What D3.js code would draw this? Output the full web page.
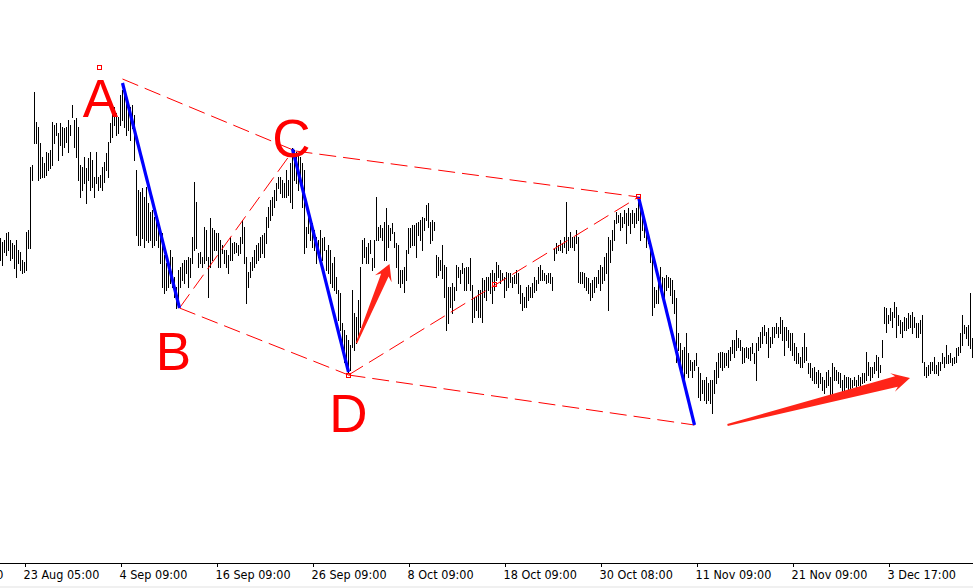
<!DOCTYPE html>
<html><head><meta charset="utf-8">
<script src="https://cdn.jsdelivr.net/npm/d3@7"></script>
<style>html,body{margin:0;padding:0;background:#fff;overflow:hidden}</style>
</head><body><svg id="c" width="973" height="588"></svg>
<script>
// ---- Bar data (H/L prices, one bar every 2 px) ----
const highs = [
1.1762,1.1758,1.1760,1.1767,1.1768,1.1760,1.1757,1.1755,1.1760,1.1750,
1.1748,1.1740,1.1738,1.1768,1.1770,1.1833,1.1835,1.1908,1.1878,1.1873,
1.1857,1.1843,1.1837,1.1848,1.1847,1.1850,1.1878,1.1875,1.1877,1.1867,
1.1877,1.1873,1.1872,1.1873,1.1880,1.1875,1.1895,1.1880,1.1882,1.1873,
1.1835,1.1833,1.1843,1.1832,1.1842,1.1848,1.1840,1.1823,1.1848,1.1823,
1.1825,1.1833,1.1838,1.1847,1.1858,1.1877,1.1888,1.1893,1.1887,1.1883,
1.1905,1.1910,1.1912,1.1903,1.1897,1.1893,1.1895,1.1885,1.1830,1.1810,
1.1808,1.1812,1.1803,1.1813,1.1797,1.1788,1.1790,1.1783,1.1787,1.1780,
1.1763,1.1767,1.1745,1.1737,1.1730,1.1750,1.1743,1.1723,1.1713,1.1730,
1.1733,1.1737,1.1740,1.1740,1.1743,1.1742,1.1763,1.1818,1.1798,1.1747,
1.1748,1.1743,1.1773,1.1770,1.1743,1.1782,1.1772,1.1770,1.1767,1.1767,
1.1760,1.1755,1.1750,1.1750,1.1745,1.1763,1.1757,1.1758,1.1757,1.1755,
1.1763,1.1780,1.1773,1.1743,1.1728,1.1738,1.1743,1.1750,1.1755,1.1757,
1.1763,1.1765,1.1767,1.1783,1.1793,1.1800,1.1803,1.1810,1.1817,1.1823,
1.1823,1.1820,1.1817,1.1830,1.1820,1.1837,1.1852,1.1850,1.1848,1.1845,
1.1843,1.1837,1.1830,1.1773,1.1790,1.1783,1.1777,1.1770,1.1763,1.1760,
1.1770,1.1762,1.1763,1.1750,1.1755,1.1750,1.1737,1.1743,1.1723,1.1710,
1.1707,1.1677,1.1670,1.1665,1.1660,1.1655,1.1710,1.1687,1.1683,1.1700,
1.1733,1.1760,1.1762,1.1753,1.1757,1.1760,1.1742,1.1760,1.1803,1.1773,
1.1775,1.1772,1.1778,1.1792,1.1775,1.1772,1.1777,1.1768,1.1757,1.1755,
1.1730,1.1730,1.1733,1.1750,1.1772,1.1772,1.1775,1.1775,1.1777,1.1778,
1.1780,1.1783,1.1782,1.1795,1.1797,1.1778,1.1780,1.1778,1.1745,1.1743,
1.1740,1.1755,1.1735,1.1733,1.1713,1.1713,1.1717,1.1713,1.1735,1.1733,
1.1730,1.1737,1.1732,1.1733,1.1733,1.1742,1.1715,1.1703,1.1703,1.1710,
1.1710,1.1722,1.1720,1.1723,1.1723,1.1727,1.1730,1.1727,1.1738,1.1735,
1.1730,1.1727,1.1723,1.1728,1.1727,1.1727,1.1723,1.1725,1.1730,1.1727,
1.1715,1.1707,1.1703,1.1713,1.1715,1.1713,1.1717,1.1723,1.1720,1.1733,
1.1735,1.1730,1.1727,1.1725,1.1727,1.1727,1.1723,1.1752,1.1757,1.1755,
1.1760,1.1757,1.1763,1.1798,1.1763,1.1768,1.1763,1.1763,1.1770,1.1763,
1.1728,1.1728,1.1727,1.1723,1.1722,1.1717,1.1720,1.1723,1.1723,1.1730,
1.1735,1.1733,1.1743,1.1747,1.1763,1.1760,1.1770,1.1780,1.1788,1.1785,
1.1787,1.1783,1.1790,1.1787,1.1792,1.1787,1.1790,1.1787,1.1792,1.1800,
1.1790,1.1783,1.1780,1.1773,1.1765,1.1755,1.1748,1.1713,1.1710,1.1720,
1.1733,1.1723,1.1722,1.1725,1.1723,1.1722,1.1720,1.1710,1.1702,1.1667,
1.1657,1.1650,1.1653,1.1667,1.1647,1.1640,1.1638,1.1640,1.1647,1.1633,
1.1627,1.1620,1.1620,1.1623,1.1617,1.1620,1.1620,1.1630,1.1638,1.1647,
1.1648,1.1648,1.1647,1.1647,1.1650,1.1653,1.1660,1.1660,1.1670,1.1662,
1.1660,1.1653,1.1652,1.1653,1.1652,1.1653,1.1657,1.1647,1.1657,1.1663,
1.1668,1.1673,1.1675,1.1668,1.1672,1.1663,1.1673,1.1673,1.1677,1.1673,
1.1683,1.1680,1.1673,1.1673,1.1670,1.1667,1.1667,1.1657,1.1653,1.1647,
1.1643,1.1653,1.1667,1.1653,1.1637,1.1637,1.1632,1.1633,1.1628,1.1630,
1.1627,1.1623,1.1620,1.1628,1.1630,1.1623,1.1637,1.1633,1.1630,1.1628,
1.1627,1.1620,1.1625,1.1623,1.1623,1.1622,1.1620,1.1623,1.1620,1.1625,
1.1623,1.1627,1.1627,1.1648,1.1638,1.1633,1.1633,1.1638,1.1645,1.1643,
1.1635,1.1660,1.1693,1.1692,1.1685,1.1692,1.1688,1.1698,1.1693,1.1685,
1.1680,1.1678,1.1683,1.1682,1.1687,1.1685,1.1688,1.1683,1.1677,1.1677,
1.1680,1.1685,1.1638,1.1633,1.1635,1.1638,1.1638,1.1643,1.1635,1.1638,
1.1638,1.1647,1.1643,1.1655,1.1645,1.1647,1.1642,1.1643,1.1652,1.1653,
1.1667,1.1685,1.1675,1.1673,1.1675,1.1707,1.1662];
const lows = [
1.1740,1.1735,1.1748,1.1745,1.1750,1.1740,1.1742,1.1732,1.1723,1.1737,
1.1730,1.1727,1.1728,1.1730,1.1752,1.1752,1.1820,1.1857,1.1857,1.1820,
1.1822,1.1823,1.1823,1.1825,1.1830,1.1832,1.1835,1.1857,1.1865,1.1840,
1.1855,1.1845,1.1853,1.1858,1.1848,1.1865,1.1883,1.1853,1.1843,1.1820,
1.1803,1.1810,1.1817,1.1797,1.1820,1.1810,1.1813,1.1803,1.1817,1.1810,
1.1813,1.1810,1.1818,1.1830,1.1823,1.1858,1.1863,1.1875,1.1865,1.1867,
1.1875,1.1880,1.1873,1.1865,1.1870,1.1860,1.1872,1.1840,1.1765,1.1755,
1.1755,1.1762,1.1753,1.1760,1.1758,1.1760,1.1753,1.1755,1.1760,1.1753,
1.1737,1.1713,1.1707,1.1710,1.1713,1.1717,1.1713,1.1703,1.1692,1.1700,
1.1713,1.1720,1.1717,1.1727,1.1713,1.1723,1.1737,1.1750,1.1752,1.1733,
1.1737,1.1733,1.1737,1.1740,1.1703,1.1733,1.1740,1.1750,1.1750,1.1733,
1.1733,1.1747,1.1737,1.1733,1.1727,1.1740,1.1740,1.1747,1.1748,1.1745,
1.1747,1.1757,1.1737,1.1697,1.1713,1.1723,1.1730,1.1733,1.1737,1.1740,
1.1743,1.1747,1.1743,1.1757,1.1773,1.1780,1.1785,1.1793,1.1800,1.1812,
1.1807,1.1803,1.1803,1.1803,1.1805,1.1798,1.1792,1.1820,1.1817,1.1810,
1.1820,1.1793,1.1747,1.1753,1.1767,1.1760,1.1753,1.1750,1.1737,1.1743,
1.1740,1.1740,1.1750,1.1730,1.1727,1.1717,1.1713,1.1710,1.1707,1.1680,
1.1670,1.1650,1.1638,1.1632,1.1628,1.1630,1.1653,1.1650,1.1657,1.1663,
1.1673,1.1737,1.1743,1.1737,1.1737,1.1747,1.1730,1.1733,1.1760,1.1760,
1.1763,1.1760,1.1740,1.1740,1.1753,1.1760,1.1767,1.1753,1.1733,1.1717,
1.1713,1.1717,1.1708,1.1720,1.1747,1.1753,1.1755,1.1755,1.1743,1.1765,
1.1760,1.1750,1.1770,1.1780,1.1773,1.1757,1.1760,1.1770,1.1723,1.1725,
1.1730,1.1722,1.1703,1.1670,1.1677,1.1693,1.1687,1.1700,1.1710,1.1723,
1.1717,1.1727,1.1710,1.1710,1.1717,1.1710,1.1678,1.1683,1.1690,1.1683,
1.1683,1.1678,1.1703,1.1700,1.1710,1.1707,1.1697,1.1710,1.1720,1.1723,
1.1717,1.1720,1.1703,1.1710,1.1713,1.1718,1.1713,1.1717,1.1717,1.1707,
1.1697,1.1690,1.1693,1.1693,1.1700,1.1703,1.1703,1.1708,1.1710,1.1717,
1.1720,1.1720,1.1720,1.1717,1.1718,1.1717,1.1710,1.1740,1.1747,1.1750,
1.1750,1.1748,1.1753,1.1747,1.1750,1.1753,1.1753,1.1750,1.1757,1.1718,
1.1717,1.1717,1.1713,1.1710,1.1707,1.1700,1.1703,1.1708,1.1713,1.1717,
1.1710,1.1717,1.1720,1.1727,1.1690,1.1738,1.1750,1.1760,1.1777,1.1778,
1.1770,1.1773,1.1777,1.1757,1.1775,1.1767,1.1777,1.1773,1.1777,1.1780,
1.1760,1.1770,1.1763,1.1753,1.1757,1.1738,1.1685,1.1693,1.1697,1.1697,
1.1710,1.1703,1.1695,1.1710,1.1713,1.1705,1.1697,1.1687,1.1638,1.1650,
1.1637,1.1630,1.1617,1.1627,1.1623,1.1630,1.1623,1.1630,1.1635,1.1603,
1.1600,1.1607,1.1600,1.1597,1.1600,1.1597,1.1587,1.1607,1.1617,1.1623,
1.1633,1.1630,1.1633,1.1635,1.1633,1.1640,1.1647,1.1643,1.1650,1.1653,
1.1650,1.1637,1.1638,1.1643,1.1642,1.1640,1.1647,1.1637,1.1620,1.1650,
1.1653,1.1657,1.1665,1.1657,1.1643,1.1653,1.1657,1.1663,1.1667,1.1663,
1.1667,1.1660,1.1645,1.1660,1.1653,1.1650,1.1645,1.1640,1.1637,1.1637,
1.1633,1.1633,1.1638,1.1640,1.1627,1.1623,1.1620,1.1617,1.1617,1.1613,
1.1617,1.1610,1.1607,1.1613,1.1615,1.1603,1.1607,1.1620,1.1620,1.1617,
1.1613,1.1607,1.1610,1.1613,1.1610,1.1612,1.1613,1.1615,1.1610,1.1615,
1.1613,1.1617,1.1618,1.1620,1.1625,1.1620,1.1623,1.1627,1.1630,1.1623,
1.1628,1.1643,1.1677,1.1668,1.1677,1.1680,1.1673,1.1683,1.1663,1.1675,
1.1667,1.1663,1.1670,1.1670,1.1672,1.1673,1.1667,1.1673,1.1663,1.1663,
1.1667,1.1638,1.1625,1.1623,1.1625,1.1627,1.1630,1.1627,1.1627,1.1625,
1.1630,1.1637,1.1633,1.1637,1.1637,1.1638,1.1635,1.1637,1.1638,1.1645,
1.1648,1.1655,1.1667,1.1662,1.1655,1.1652,1.1643];

// ---- Time axis ----
const tickLabels = ["11 Aug 09:00","23 Aug 05:00","4 Sep 09:00","16 Sep 09:00","26 Sep 09:00","8 Oct 09:00",
                    "18 Oct 09:00","30 Oct 08:00","11 Nov 09:00","21 Nov 09:00","3 Dec 17:00"];
const tickIndex  = [-36,12,60,108,156,204,252,300,348,396,444];

// ---- Pattern annotation (bar index, price) ----
const blueLegs = [
  {from:[61,1.1917],  to:[89.5,1.1692]},   // A -> B
  {from:[146,1.1851], to:[174,1.1628]},    // C -> D
  {from:[319,1.1803], to:[347,1.1575]}     // E -> F
];
const dashedLegs = [
  {from:[61,1.1921],  to:[147.5,1.1849]},  // A - C
  {from:[147.5,1.1849], to:[319,1.1803]},  // C - E
  {from:[89.5,1.1692], to:[146.5,1.1850]}, // B - C
  {from:[89.5,1.1692], to:[174,1.1625]},   // B - D
  {from:[174,1.1625], to:[319,1.1803]},    // D - E
  {from:[174,1.1625], to:[347,1.1575]}     // D - F
];
const markers = [[49.5,1.1932],[174,1.1624],[247,1.1715],[319,1.1803]];
const letters = [
  {t:"A", i:50,   p:1.1883},
  {t:"B", i:86.5, p:1.1630},
  {t:"C", i:145.5,p:1.1843},
  {t:"D", i:174,  p:1.1568}
];
const arrows = [
  {from:[178,1.1657],   to:[194.5,1.1736], head:16, hw:9,   sw:4,   tw:0.8},
  {from:[363.5,1.1575], to:[454.75,1.1622], head:18, hw:9.5, sw:5.5, tw:1}
];

// ---- Drawing ----
const W = 973, H = 588, AXIS_Y = 563;
const svg = d3.select("#c");
const x = d3.scaleLinear().domain([0, highs.length - 1]).range([0.5, 2*(highs.length-1)+0.5]);
const y = d3.scaleLinear().domain([1.1437, 1.2]).range([AXIS_Y, 0]);

svg.append("rect").attr("x",0).attr("y",0).attr("width",W).attr("height",H).attr("fill","#fff");
svg.append("rect").attr("x",0).attr("y",586).attr("width",W).attr("height",2).attr("fill","#f0f0f0");

// price bars
svg.append("g").selectAll("line").data(highs).join("line")
  .attr("x1",(d,i)=>x(i)).attr("x2",(d,i)=>x(i))
  .attr("y1",d=>Math.round(y(d)))
  .attr("y2",(d,i)=>Math.round(y(lows[i]))+1)
  .attr("stroke","#000").attr("stroke-width",1).attr("shape-rendering","crispEdges");

// dashed legs
svg.append("g").selectAll("line").data(dashedLegs).join("line")
  .attr("x1",d=>x(d.from[0])).attr("y1",d=>y(d.from[1]))
  .attr("x2",d=>x(d.to[0])).attr("y2",d=>y(d.to[1]))
  .attr("stroke","#ff0000").attr("stroke-width",1).attr("stroke-dasharray","17,7");

// blue legs
svg.append("g").selectAll("line").data(blueLegs).join("line")
  .attr("x1",d=>x(d.from[0])).attr("y1",d=>y(d.from[1]))
  .attr("x2",d=>x(d.to[0])).attr("y2",d=>y(d.to[1]))
  .attr("stroke","#0000ff").attr("stroke-width",3.2);

// markers
svg.append("g").selectAll("rect").data(markers).join("rect")
  .attr("x",d=>Math.round(x(d[0]))-2.5).attr("y",d=>Math.round(y(d[1]))-2.5)
  .attr("width",4).attr("height",4).attr("fill","none").attr("stroke","#ff0000").attr("stroke-width",1)
  .attr("shape-rendering","crispEdges");

// arrows
function arrowPath(a){
  const x0=x(a.from[0]), y0=y(a.from[1]), x1=x(a.to[0]), y1=y(a.to[1]);
  const L=Math.hypot(x1-x0,y1-y0), ux=(x1-x0)/L, uy=(y1-y0)/L, nx=-uy, ny=ux;
  const bx=x1-ux*a.head, by=y1-uy*a.head;
  const kx=x1-ux*(a.head-4), ky=y1-uy*(a.head-4);
  const pts=[[x0+nx*a.tw,y0+ny*a.tw],[kx+nx*a.sw,ky+ny*a.sw],[bx+nx*a.hw,by+ny*a.hw],[x1,y1],
             [bx-nx*a.hw,by-ny*a.hw],[kx-nx*a.sw,ky-ny*a.sw],[x0-nx*a.tw,y0-ny*a.tw]];
  return "M"+pts.map(p=>p[0].toFixed(2)+","+p[1].toFixed(2)).join("L")+"Z";
}
svg.append("g").selectAll("path").data(arrows).join("path")
  .attr("d",arrowPath).attr("fill","#ff2418");

// letters
svg.append("g").selectAll("text").data(letters).join("text")
  .attr("x",d=>x(d.i)).attr("y",d=>y(d.p))
  .attr("text-anchor","middle").attr("fill","#ff0000")
  .attr("font-family","'Liberation Sans', Arial, sans-serif").attr("font-size",53)
  .text(d=>d.t);

// time axis
const axis = d3.axisBottom(x).tickValues(tickIndex)
  .tickFormat((d,i)=>tickLabels[i]).tickSizeInner(4).tickSizeOuter(0).tickPadding(0);
const gA = svg.append("g").attr("transform",`translate(0,${AXIS_Y})`).call(axis);
gA.select(".domain").remove();
gA.selectAll(".tick line").attr("stroke","#000").attr("shape-rendering","crispEdges");
gA.selectAll(".tick text").attr("text-anchor","start").attr("x",-1.5).attr("y",16).attr("dy",0)
  .attr("fill","#000").attr("font-family","'DejaVu Sans Condensed','DejaVu Sans',sans-serif")
  .attr("font-size",12.5);
svg.append("line").attr("x1",0).attr("x2",W).attr("y1",AXIS_Y+0.5).attr("y2",AXIS_Y+0.5)
  .attr("stroke","#000").attr("stroke-width",1);
</script>
</body></html>
